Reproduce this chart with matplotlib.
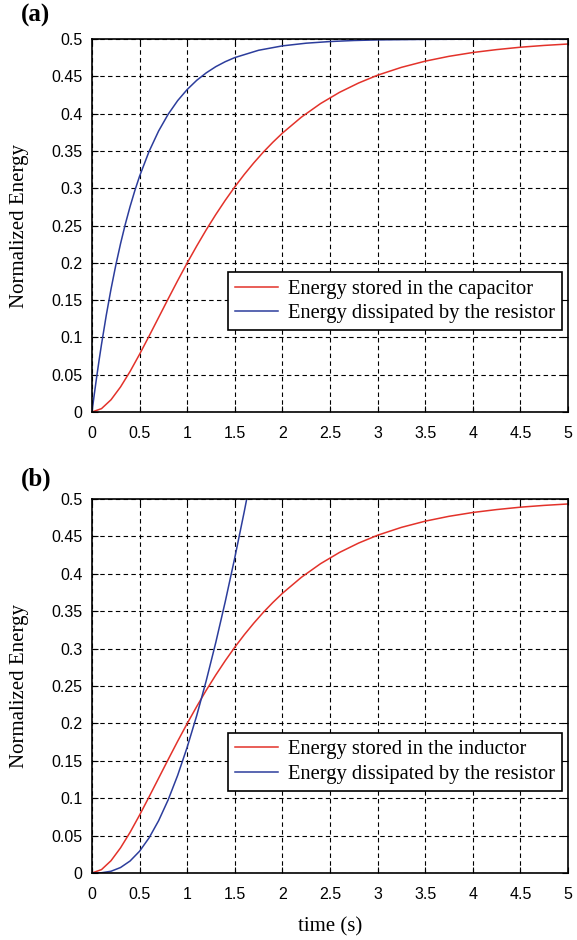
import matplotlib
matplotlib.use("Agg")
import matplotlib.pyplot as plt

# Time samples (s) and normalized energies for the RC circuit (a)
t_cap = [0.0, 0.1, 0.2, 0.3, 0.4, 0.5, 0.6, 0.7, 0.8, 0.9, 1.0, 1.1, 1.2, 1.3,
         1.4, 1.5, 1.6, 1.7, 1.8, 1.9, 2.0, 2.2, 2.4, 2.6, 2.8, 3.0, 3.25, 3.5,
         3.75, 4.0, 4.25, 4.5, 4.75, 5.0]
e_stored = [0.0, 0.0045, 0.0164, 0.0336, 0.0543, 0.0774, 0.1018, 0.1267,
            0.1516, 0.1761, 0.1998, 0.2225, 0.2442, 0.2646, 0.2838, 0.3018,
            0.3185, 0.3340, 0.3484, 0.3616, 0.3738, 0.3953, 0.4134, 0.4285,
            0.4410, 0.4515, 0.4620, 0.4703, 0.4768, 0.4819, 0.4858, 0.4890,
            0.4914, 0.4933]

t_res_a = [0.0, 0.025, 0.05, 0.075, 0.1, 0.15, 0.2, 0.25, 0.3, 0.35, 0.4,
           0.45, 0.5, 0.6, 0.7, 0.8, 0.9, 1.0, 1.1, 1.2, 1.3, 1.4, 1.5, 1.75,
           2.0, 2.25, 2.5, 2.75, 3.0, 3.5, 4.0, 4.5, 5.0]
e_res_a = [0.0, 0.0244, 0.0476, 0.0697, 0.0906, 0.1296, 0.1648, 0.1967,
           0.2256, 0.2517, 0.2753, 0.2967, 0.3161, 0.3494, 0.3767, 0.3991,
           0.4174, 0.4323, 0.4446, 0.4546, 0.4629, 0.4696, 0.4751, 0.4849,
           0.4908, 0.4944, 0.4966, 0.4980, 0.4988, 0.4995, 0.4998, 0.4999,
           0.5000]

# RL circuit (b): inductor energy follows the same curve as the capacitor
t_ind = t_cap
e_ind = e_stored

t_res_b = [0.0, 0.1, 0.2, 0.3, 0.4, 0.5, 0.6, 0.7, 0.8, 0.9, 1.0, 1.1, 1.2,
           1.3, 1.4, 1.5, 1.6, 1.7]
e_res_b = [0.0, 0.0003, 0.0023, 0.0073, 0.0160, 0.0291, 0.0470, 0.0699,
           0.0977, 0.1305, 0.1681, 0.2103, 0.2570, 0.3079, 0.3628, 0.4214,
           0.4834, 0.5487]

x_ticks = [0, 0.5, 1, 1.5, 2, 2.5, 3, 3.5, 4, 4.5, 5]
x_ticklabels = ["0", "0.5", "1", "1.5", "2", "2.5", "3", "3.5", "4", "4.5", "5"]
y_ticks = [0, 0.05, 0.1, 0.15, 0.2, 0.25, 0.3, 0.35, 0.4, 0.45, 0.5]
y_ticklabels = ["0", "0.05", "0.1", "0.15", "0.2", "0.25", "0.3", "0.35",
                "0.4", "0.45", "0.5"]

RED = "#e3322a"
BLUE = "#2c3d9c"
SERIF = "Liberation Serif"
SANS = "Liberation Sans"

fig = plt.figure(figsize=(5.77, 9.40), dpi=100)
ax_a = fig.add_axes([0.1594, 0.5617, 0.8250, 0.3968])
ax_b = fig.add_axes([0.1594, 0.0713, 0.8250, 0.3979])


def style_axes(ax):
    ax.set_xlim(0, 5)
    ax.set_ylim(0, 0.5)
    ax.set_xticks(x_ticks)
    ax.set_xticklabels(x_ticklabels, fontname=SANS, fontsize=11.5)
    ax.set_yticks(y_ticks)
    ax.set_yticklabels(y_ticklabels, fontname=SANS, fontsize=11.5)
    ax.tick_params(direction="in", length=4, width=0.8, top=True, right=True,
                   colors="black")
    ax.tick_params(axis="y", pad=7)
    ax.tick_params(axis="x", pad=10)
    ax.grid(True, color="black", linestyle=(0, (4, 3)), linewidth=0.8)
    ax.set_axisbelow(True)
    for sp in ax.spines.values():
        sp.set_linewidth(1.2)
        sp.set_color("black")
    ax.set_ylabel("Normalized Energy", fontname=SERIF, fontsize=15, labelpad=16)


def add_legend(ax, labels):
    leg = ax.legend(labels, loc="upper right", bbox_to_anchor=(0.987, 0.375),
                    prop={"family": SERIF, "size": 14.8}, frameon=True,
                    fancybox=False, edgecolor="black", framealpha=1,
                    borderaxespad=0, borderpad=0.35, handlelength=2.1,
                    handletextpad=0.45, labelspacing=0.25)
    leg.get_frame().set_linewidth(1.2)


ax_a.plot(t_cap, e_stored, color=RED, linewidth=1.1)
ax_a.plot(t_res_a, e_res_a, color=BLUE, linewidth=1.1)
style_axes(ax_a)
add_legend(ax_a, ["Energy stored in the capacitor",
                  "Energy dissipated by the resistor"])

ax_b.plot(t_ind, e_ind, color=RED, linewidth=1.1)
ax_b.plot(t_res_b, e_res_b, color=BLUE, linewidth=1.1)
style_axes(ax_b)
add_legend(ax_b, ["Energy stored in the inductor",
                  "Energy dissipated by the resistor"])
ax_b.set_xlabel("time (s)", fontname=SERIF, fontsize=15, labelpad=11)

fig.text(0.036, 0.984, "(a)", fontname=SERIF, fontweight="bold", fontsize=18,
         ha="left", va="center")
fig.text(0.036, 0.490, "(b)", fontname=SERIF, fontweight="bold", fontsize=18,
         ha="left", va="center")

fig.savefig("out.png", dpi=100)
